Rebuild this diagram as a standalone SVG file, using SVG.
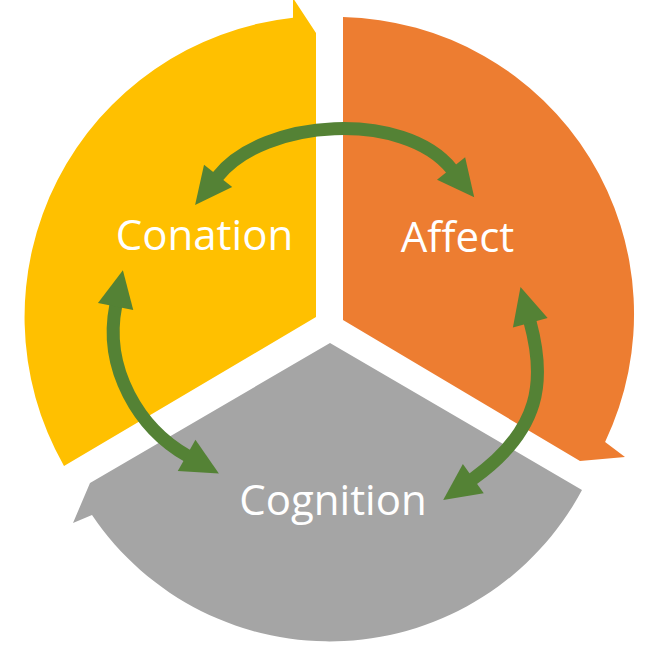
<svg xmlns="http://www.w3.org/2000/svg" width="651" height="654" viewBox="0 0 651 654">
  <style>
    .lbl { font-family: "Open Sans", "Noto Sans", "Liberation Sans", sans-serif; font-size: 42px; fill: #FFFFFF; text-anchor: middle; }
    .conn { fill: none; stroke: #548235; stroke-width: 13; marker-start: url(#ah); marker-end: url(#ah); }
  </style>
  <defs>
    <marker id="ah" markerUnits="userSpaceOnUse" markerWidth="40" markerHeight="40" viewBox="0 -20 40 40" refX="1" refY="0" orient="auto-start-reverse" overflow="visible">
      <path d="M0,-18 L37,0 L0,18 Z" fill="#548235"/>
    </marker>
  </defs>
  <rect width="651" height="654" fill="#FFFFFF"/>
  <g id="conation">
    <path d="M316,317 L316,33 L293,-2 L293,17.8 A301,301 0 0 0 64,466 Z" fill="#FFC000"/>
    <text class="lbl" x="204.5" y="250">Conation</text>
  </g>
  <g id="affect">
    <path d="M343,320 L343,17.1 A297,297 0 0 1 605.1,441.9 L625,457 L580,461 Z" fill="#ED7D31"/>
    <text class="lbl" x="457.5" y="252">Affect</text>
  </g>
  <g id="cognition">
    <path d="M330,343 L582,490 A286.3,286.3 0 0 1 92,515 L73,523 L90,483 Z" fill="#A5A5A5"/>
    <text class="lbl" x="333" y="514.5">Cognition</text>
  </g>
  <g id="connectors">
    <path class="conn" d="M217.5,176.7 C264.3,117.8 404.5,110.3 451.7,169.2"/>
    <path class="conn" d="M115.8,305.5 C103,369.2 139.6,428.8 187.5,455.8"/>
    <path class="conn" d="M530,321.7 C545.8,379.6 541.7,429.9 472.5,479.2"/>
  </g>
</svg>
